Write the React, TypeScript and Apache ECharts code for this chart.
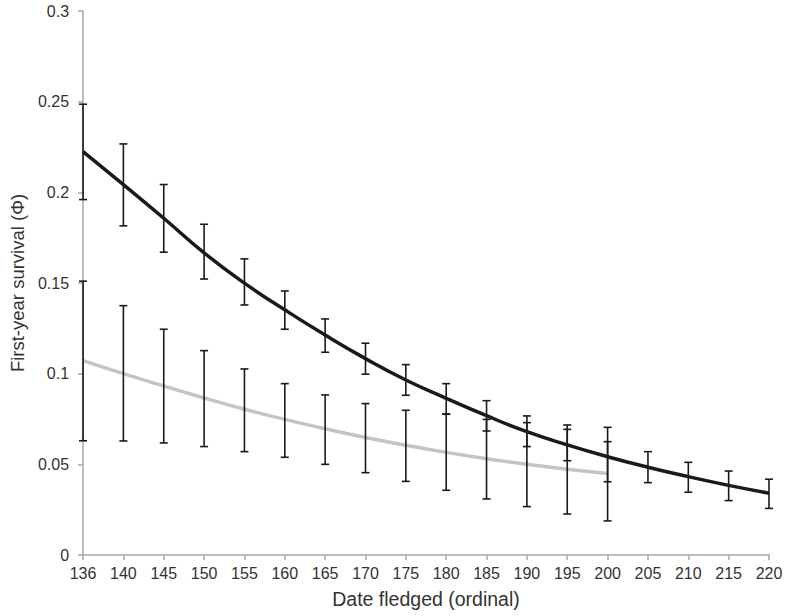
import React, { useEffect, useRef } from "react";
import * as echarts from "echarts";

const categories = ["136","140","145","150","155","160","165","170","175","180","185","190","195","200","205","210","215","220"];

const blackMean = [0.2225,0.2042,0.1857,0.1666,0.1499,0.1352,0.1213,0.1083,0.0965,0.0864,0.0768,0.068,0.0607,0.0542,0.0484,0.0432,0.0384,0.0341];
const blackLow  = [0.196,0.1815,0.167,0.1522,0.1379,0.1245,0.1118,0.0997,0.0881,0.0776,0.0684,0.0598,0.052,0.0404,0.0399,0.0346,0.03,0.0257];
const blackHigh = [0.2486,0.2267,0.2043,0.1824,0.1633,0.1456,0.1302,0.1168,0.105,0.0945,0.0851,0.0767,0.0717,0.0704,0.057,0.0511,0.0463,0.0418];

const grayMean = [0.1072,0.1,0.0932,0.0866,0.0804,0.0748,0.0696,0.0648,0.0605,0.0566,0.0531,0.05,0.0473,0.045];
const grayLow  = [0.063,0.0629,0.0618,0.0598,0.057,0.0539,0.05,0.0454,0.0406,0.0357,0.0309,0.0267,0.0226,0.0188];
const grayHigh = [0.151,0.1375,0.1245,0.1127,0.1026,0.0945,0.0883,0.0835,0.0798,0.0778,0.0748,0.073,0.0693,0.0625];

const yTicks = { min: 0, max: 0.3, interval: 0.05 };

function errorData(low: number[], high: number[]) {
  return low.map((l, i) => [i, l, high[i]]);
}

const renderErr = (params: any, api: any) => {
  const x = api.value(0);
  const lo = api.coord([x, api.value(1)]);
  const hi = api.coord([x, api.value(2)]);
  const cap = 4;
  const style = { stroke: "#1a1a1a", lineWidth: 1.6, fill: null };
  return {
    type: "group",
    children: [
      { type: "line", shape: { x1: lo[0], y1: lo[1], x2: hi[0], y2: hi[1] }, style },
      { type: "line", shape: { x1: lo[0] - cap, y1: lo[1], x2: lo[0] + cap, y2: lo[1] }, style },
      { type: "line", shape: { x1: hi[0] - cap, y1: hi[1], x2: hi[0] + cap, y2: hi[1] }, style },
    ],
  };
};

export default function App() {
  const ref = useRef<HTMLDivElement>(null);
  useEffect(() => {
    document.body.style.margin = "0";
    const chart = echarts.init(ref.current!, null, { renderer: "svg" });
    const font = "Liberation Sans, Arial, sans-serif";
    chart.setOption({
      animation: false,
      backgroundColor: "#ffffff",
      grid: { left: 78, right: 18, top: 11, bottom: 61 },
      xAxis: {
        type: "category",
        data: categories,
        boundaryGap: false,
        name: "Date fledged (ordinal)",
        nameLocation: "middle",
        nameGap: 34,
        nameTextStyle: { fontFamily: font, fontSize: 19.5, color: "#333333" },
        axisLine: { lineStyle: { color: "#a6a6a6", width: 1.5 } },
        axisTick: { alignWithLabel: true, length: 5, lineStyle: { color: "#a6a6a6", width: 1.5 } },
        axisLabel: { fontFamily: font, fontSize: 16, color: "#333333", margin: 10, interval: 0 },
        splitLine: { show: false },
      },
      yAxis: {
        type: "value",
        min: yTicks.min,
        max: yTicks.max,
        interval: yTicks.interval,
        name: "First-year survival (Φ)",
        nameLocation: "middle",
        nameGap: 56,
        nameTextStyle: { fontFamily: font, fontSize: 18.5, color: "#333333" },
        axisLine: { show: true, lineStyle: { color: "#a6a6a6", width: 1.5 } },
        axisTick: { show: true, length: 5, lineStyle: { color: "#a6a6a6", width: 1.5 } },
        axisLabel: { fontFamily: font, fontSize: 16, color: "#333333", margin: 14 },
        splitLine: { show: false },
      },
      series: [
        {
          type: "line",
          data: grayMean,
          smooth: true,
          showSymbol: false,
          lineStyle: { color: "#c4c4c4", width: 3.5 },
          z: 2,
        },
        {
          type: "line",
          data: blackMean,
          smooth: true,
          showSymbol: false,
          lineStyle: { color: "#1a1a1a", width: 3.5 },
          z: 3,
        },
        {
          type: "custom",
          renderItem: renderErr,
          data: errorData(grayLow, grayHigh),
          encode: { x: 0, y: [1, 2] },
          z: 4,
        },
        {
          type: "custom",
          renderItem: renderErr,
          data: errorData(blackLow, blackHigh),
          encode: { x: 0, y: [1, 2] },
          z: 4,
        },
      ],
    });
    return () => chart.dispose();
  }, []);
  return <div ref={ref} style={{ width: 787, height: 616 }} />;
}
